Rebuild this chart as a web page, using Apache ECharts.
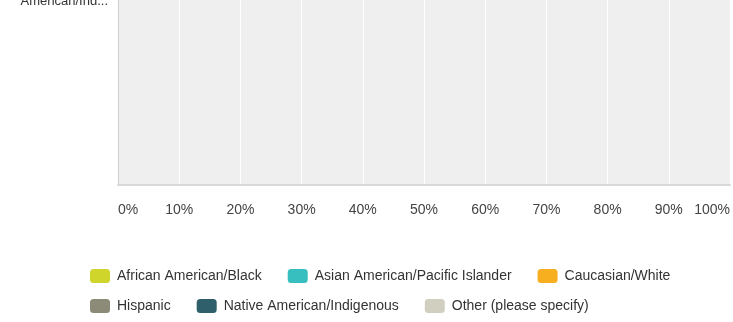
<!DOCTYPE html>
<html>
<head>
<meta charset="utf-8">
<script src="https://cdn.jsdelivr.net/npm/echarts@6/dist/echarts.min.js"></script>
<style>
  html, body { margin: 0; padding: 0; background: #fff; }
  #chart { width: 733px; height: 322px; }
</style>
</head>
<body>
<div id="chart"></div>
<script>
// Response category shown on the vertical axis
const categories = ['Native\nAmerican/Ind...'];

// Share of respondents (%) per answer option
const africanAmerican = [0];
const asianAmerican = [0];
const caucasian = [0];
const hispanic = [0];
const nativeAmerican = [0];
const otherSpecify = [0];

// Percentage ticks along the bottom axis
const tickLabels = ['0%', '10%', '20%', '30%', '40%', '50%', '60%', '70%', '80%', '90%', '100%'];

const seriesNames = [
  'African American/Black',
  'Asian American/Pacific Islander',
  'Caucasian/White',
  'Hispanic',
  'Native American/Indigenous',
  'Other (please specify)'
];
const seriesData = [africanAmerican, asianAmerican, caucasian, hispanic, nativeAmerican, otherSpecify];
const colors = ['#d0d52b', '#37bfbf', '#f7ae1f', '#8b8b78', '#2e5f6a', '#d1cfbf'];

const font = 'Arial, "Liberation Sans", sans-serif';

const chart = echarts.init(document.getElementById('chart'), null, { renderer: 'canvas' });

const legendBase = {
  left: 85,
  itemWidth: 20,
  itemHeight: 14,
  itemGap: 26,
  icon: 'roundRect',
  selectedMode: false,
  textStyle: { fontFamily: font, fontSize: 14, color: '#333', padding: [0, 0, 0, 2] }
};

chart.setOption({
  animation: false,
  color: colors,
  textStyle: { fontFamily: font },
  grid: {
    left: 118,
    right: 3,
    // the plot runs on above the visible area; only its lower part shows
    top: -198,
    bottom: 137,
    outerBoundsMode: 'none',
    containLabel: false,
    show: true,
    backgroundColor: '#efefef',
    borderWidth: 0
  },
  legend: [
    Object.assign({}, legendBase, { top: 264, data: seriesNames.slice(0, 3) }),
    Object.assign({}, legendBase, { top: 294, data: seriesNames.slice(3) })
  ],
  xAxis: {
    type: 'value',
    min: 0,
    max: 100,
    interval: 10,
    axisLine: { show: true, lineStyle: { color: '#d9d9d9', width: 2 } },
    axisTick: { show: false },
    splitLine: { show: true, lineStyle: { color: '#ffffff', width: 1 } },
    axisLabel: {
      margin: 18,
      fontSize: 14,
      color: '#444',
      fontFamily: font,
      alignMinLabel: 'left',
      alignMaxLabel: 'right',
      formatter: (v) => tickLabels[Math.round(v / 10)]
    }
  },
  yAxis: {
    type: 'category',
    data: categories,
    axisLine: { show: true, lineStyle: { color: '#cfcfcf', width: 1 } },
    axisTick: { show: false },
    axisLabel: {
      margin: 10,
      fontSize: 13,
      lineHeight: 15,
      color: '#333',
      fontFamily: font,
      align: 'right'
    }
  },
  series: seriesNames.map((name, i) => ({
    name: name,
    type: 'bar',
    stack: 'total',
    barWidth: '40%',
    data: seriesData[i]
  }))
});
</script>
</body>
</html>
